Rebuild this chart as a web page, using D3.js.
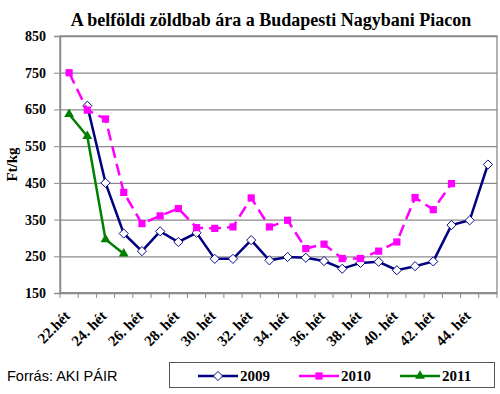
<!DOCTYPE html>
<html lang="hu">
<head>
<meta charset="UTF-8">
<script src="https://d3js.org/d3.v7.min.js"></script>
<style>
  body { margin: 0; background: #fff; }
  text { font-family: "Liberation Serif", "Times New Roman", serif; }
</style>
</head>
<body>
<svg id="chart" width="500" height="394"></svg>
<script>
// hetek 22..45
const weeks = ["22.hét", "23. hét", "24. hét", "25. hét", "26. hét", "27. hét", "28. hét", "29. hét",
  "30. hét", "31. hét", "32. hét", "33. hét", "34. hét", "35. hét", "36. hét", "37. hét",
  "38. hét", "39. hét", "40. hét", "41. hét", "42. hét", "43. hét", "44. hét", "45. hét"];
const labelWeeks = ["22.hét", "24. hét", "26. hét", "28. hét", "30. hét", "32. hét", "34. hét", "36. hét", "38. hét", "40. hét", "42. hét", "44. hét"];
const yTicks = [150, 250, 350, 450, 550, 650, 750, 850];

const v2009 = [null, 660, 450, 312, 264, 318, 289, 314, 243, 243, 294, 239, 248, 246, 237, 216, 232, 235, 212, 223, 236, 335, 348, 500];
const v2010 = [750, 648, 624, 424, 339, 360, 380, 328, 326, 330, 409, 330, 348, 271, 283, 244, 244, 264, 289, 410, 377, 448, null, null];
const v2011 = [637, 577, 296, 257, null, null, null, null, null, null, null, null, null, null, null, null, null, null, null, null, null, null, null, null];

const series = [
  { name: "2009", values: v2009, color: "#000080", marker: "diamond", dash: null },
  { name: "2010", values: v2010, color: "#ff00ff", marker: "square", dash: "12,6" },
  { name: "2011", values: v2011, color: "#008000", marker: "triangle", dash: null }
];

const svg = d3.select("#chart");
const margin = { top: 36, right: 3, bottom: 101, left: 60 };
const W = 500, H = 394;

const x = d3.scaleBand().domain(weeks).range([margin.left, W - margin.right]).padding(0);
const y = d3.scaleLinear().domain([150, 850]).range([H - margin.bottom, margin.top]);

// cim
svg.append("text")
  .attr("x", 271).attr("y", 26)
  .attr("text-anchor", "middle")
  .style("font-size", "18px").style("font-weight", "bold")
  .text("A belföldi zöldbab ára a Budapesti Nagybani Piacon");

// racsvonalak
svg.append("g")
  .attr("transform", `translate(${margin.left},0)`)
  .call(d3.axisLeft(y).tickValues(yTicks).tickSize(-(W - margin.left - margin.right)).tickFormat(""))
  .call(g => g.select(".domain").remove())
  .call(g => g.selectAll("line").attr("stroke", "#8a8a8a").attr("stroke-width", 1.3));

// keret
svg.append("rect")
  .attr("x", margin.left).attr("y", margin.top)
  .attr("width", W - margin.left - margin.right)
  .attr("height", H - margin.top - margin.bottom)
  .attr("fill", "none").attr("stroke", "#8a8a8a").attr("stroke-width", 1.3);

// Y tengely
svg.append("g")
  .attr("transform", `translate(${margin.left},0)`)
  .call(d3.axisLeft(y).tickValues(yTicks).tickSize(6).tickPadding(8))
  .call(g => g.select(".domain").attr("stroke", "#8a8a8a").attr("stroke-width", 1.5))
  .call(g => g.selectAll("line").attr("stroke", "#8a8a8a"))
  .call(g => g.selectAll("text").style("font-size", "14px").style("font-weight", "bold")
    .attr("fill", "#000").style("font-family", "Liberation Serif, serif"));

svg.append("text")
  .attr("transform", `translate(17,${(margin.top + H - margin.bottom) / 2}) rotate(-90)`)
  .attr("text-anchor", "middle")
  .style("font-size", "15px").style("font-weight", "bold")
  .text("Ft/kg");

// X tengely
const xAxisY = H - margin.bottom;
svg.append("line")
  .attr("x1", margin.left).attr("x2", W - margin.right)
  .attr("y1", xAxisY).attr("y2", xAxisY)
  .attr("stroke", "#8a8a8a").attr("stroke-width", 1.5);

svg.append("g").selectAll("line")
  .data(weeks.concat(["end"]))
  .enter().append("line")
  .attr("x1", (d, i) => margin.left + i * x.step())
  .attr("x2", (d, i) => margin.left + i * x.step())
  .attr("y1", xAxisY).attr("y2", xAxisY + 5)
  .attr("stroke", "#8a8a8a");

svg.append("g").selectAll("text")
  .data(labelWeeks)
  .enter().append("text")
  .attr("transform", d => `translate(${x(d) + x.bandwidth() / 2 + 2},${xAxisY + 24}) rotate(-45)`)
  .attr("text-anchor", "end")
  .style("font-size", "15px").style("font-weight", "bold")
  .text(d => d);

// vonalak
const cx = i => x(weeks[i]) + x.bandwidth() / 2;
const line = d3.line()
  .defined(d => d != null)
  .x((d, i) => cx(i))
  .y(d => y(d));

const symbolFor = m => m === "triangle" ? d3.symbolTriangle : d3.symbolSquare;
const sizeFor = m => m === "diamond" ? 42 : m === "square" ? 52 : 42;
const rotFor = m => m === "diamond" ? 45 : 0;

function addMarker(g, s, px, py) {
  g.append("path")
    .attr("transform", `translate(${px},${py}) rotate(${rotFor(s.marker)})`)
    .attr("d", d3.symbol().type(symbolFor(s.marker)).size(sizeFor(s.marker)))
    .attr("fill", s.marker === "diamond" ? "#fff" : s.color)
    .attr("stroke", s.marker === "diamond" ? s.color : "none")
    .attr("stroke-width", 0.9);
}

series.forEach(s => {
  svg.append("path")
    .datum(s.values)
    .attr("d", line)
    .attr("fill", "none")
    .attr("stroke", s.color)
    .attr("stroke-width", 2.5)
    .attr("stroke-dasharray", s.dash);

  const g = svg.append("g");
  s.values.forEach((v, i) => {
    if (v != null) addMarker(g, s, cx(i), y(v));
  });
});

// forras
svg.append("text")
  .attr("x", 7).attr("y", 381)
  .style("font-family", "Liberation Sans, Arial, sans-serif")
  .style("font-size", "14.5px")
  .text("Forrás: AKI PÁIR");

// jelmagyarazat
const lg = svg.append("g");
lg.append("rect")
  .attr("x", 169.5).attr("y", 362.5).attr("width", 325).attr("height", 25)
  .attr("fill", "#fff").attr("stroke", "#555").attr("stroke-width", 1);

series.forEach((s, k) => {
  const lx = 198 + k * 101;
  const ly = 376;
  lg.append("line")
    .attr("x1", lx).attr("x2", lx + 40).attr("y1", ly).attr("y2", ly)
    .attr("stroke", s.color).attr("stroke-width", 2.5);
  addMarker(lg, s, lx + 20, ly);
  lg.append("text")
    .attr("x", lx + 42).attr("y", ly + 5)
    .style("font-size", "15px").style("font-weight", "bold")
    .text(s.name);
});
</script>
</body>
</html>
